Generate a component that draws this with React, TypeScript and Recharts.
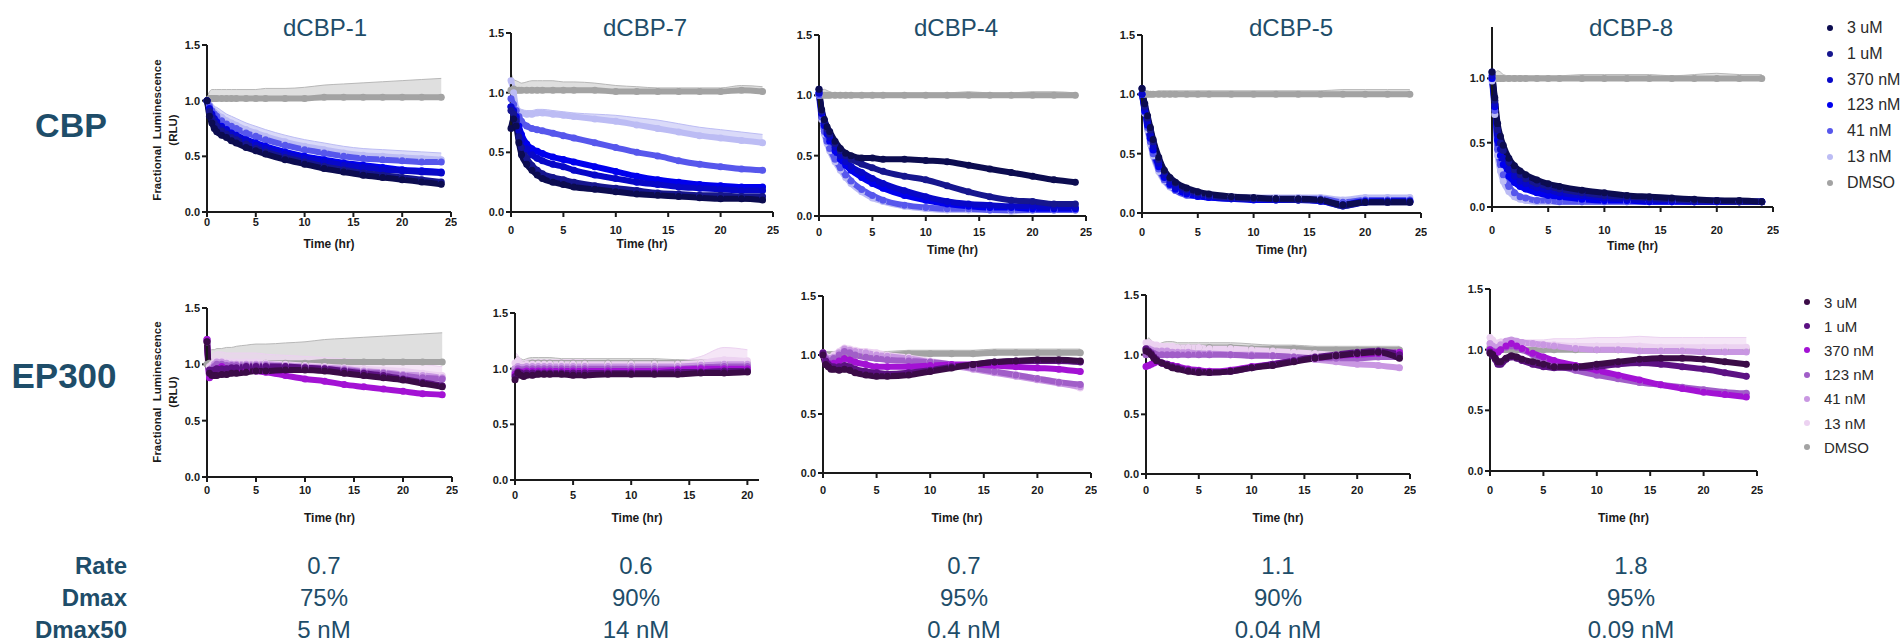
import { Area, ComposedChart, Line, XAxis, YAxis } from "recharts";

const TIME = [0, 0.25, 0.5, 0.75, 1, 1.5, 2, 2.5, 3, 4, 5, 6, 8, 10, 12, 14, 16, 18, 20, 22, 24];
const DOSES = ["3 uM", "1 uM", "370 nM", "123 nM", "41 nM", "13 nM", "DMSO"];
const COMPOUNDS = ["dCBP-1", "dCBP-7", "dCBP-4", "dCBP-5", "dCBP-8"];
const RATE = ["0.7", "0.6", "0.7", "1.1", "1.8"];
const DMAX = ["75%", "90%", "95%", "90%", "95%"];
const DMAX50 = ["5 nM", "14 nM", "0.4 nM", "0.04 nM", "0.09 nM"];

const CBP_COLORS = ["#0c0c50", "#16168e", "#0808c8", "#0000ee", "#5757ec", "#bcbcf4", "#a3a3a3"];
const EP300_COLORS = ["#3b0b47", "#5c1183", "#a312d4", "#a15ec8", "#c997e2", "#ecd2f1", "#a3a3a3"];

// rows follow DOSES order: 3 uM, 1 uM, 370 nM, 123 nM, 41 nM, 13 nM, DMSO
const CBP_DCBP1 = [
  [1.0, 0.86, 0.8, 0.75, 0.72, 0.69, 0.67, 0.64, 0.62, 0.58, 0.55, 0.52, 0.47, 0.43, 0.39, 0.36, 0.33, 0.31, 0.29, 0.27, 0.25],
  [1.0, 0.9, 0.84, 0.8, 0.77, 0.73, 0.7, 0.67, 0.65, 0.61, 0.57, 0.54, 0.49, 0.45, 0.41, 0.38, 0.35, 0.33, 0.31, 0.29, 0.27],
  [1.0, 0.92, 0.87, 0.83, 0.8, 0.76, 0.73, 0.7, 0.68, 0.64, 0.6, 0.57, 0.52, 0.48, 0.45, 0.42, 0.4, 0.38, 0.37, 0.36, 0.35],
  [1.0, 0.93, 0.88, 0.84, 0.81, 0.77, 0.74, 0.71, 0.69, 0.65, 0.62, 0.59, 0.54, 0.5, 0.47, 0.44, 0.42, 0.4, 0.38, 0.37, 0.36],
  [1.0, 0.95, 0.91, 0.88, 0.86, 0.82, 0.79, 0.77, 0.75, 0.71, 0.68, 0.65, 0.6, 0.56, 0.53, 0.5, 0.48, 0.47, 0.46, 0.45, 0.45],
  [1.0, 0.96, 0.93, 0.9, 0.88, 0.85, 0.82, 0.8, 0.78, 0.74, 0.71, 0.68, 0.63, 0.59, 0.56, 0.53, 0.51, 0.5, 0.49, 0.48, 0.47],
  [1.0, 1.02, 1.02, 1.02, 1.02, 1.02, 1.02, 1.02, 1.02, 1.02, 1.02, 1.02, 1.02, 1.02, 1.03, 1.03, 1.03, 1.03, 1.03, 1.03, 1.03]
];
const CBP_DCBP1_DMSO_ERR = [0.03, 0.06, 0.08, 0.08, 0.08, 0.08, 0.08, 0.08, 0.08, 0.08, 0.08, 0.09, 0.09, 0.1, 0.11, 0.12, 0.13, 0.14, 0.15, 0.16, 0.17];
const CBP_DCBP1_13NM_ERR = [0.03, 0.04, 0.05, 0.05, 0.06, 0.06, 0.06, 0.06, 0.06, 0.06, 0.06, 0.06, 0.06, 0.06, 0.06, 0.06, 0.06, 0.06, 0.06, 0.06, 0.06];

const CBP_DCBP7 = [
  [0.7, 0.78, 0.72, 0.58, 0.48, 0.4, 0.35, 0.31, 0.28, 0.25, 0.23, 0.21, 0.19, 0.17, 0.15, 0.14, 0.13, 0.12, 0.11, 0.11, 0.1],
  [0.85, 0.82, 0.76, 0.63, 0.54, 0.45, 0.39, 0.35, 0.32, 0.29, 0.27, 0.25, 0.22, 0.2, 0.18, 0.16, 0.15, 0.14, 0.14, 0.13, 0.13],
  [0.88, 0.84, 0.78, 0.68, 0.6, 0.53, 0.48, 0.45, 0.43, 0.4, 0.38, 0.35, 0.31, 0.28, 0.25, 0.23, 0.21, 0.2, 0.19, 0.18, 0.18],
  [0.88, 0.85, 0.8, 0.72, 0.65, 0.57, 0.53, 0.51, 0.49, 0.46, 0.44, 0.42, 0.38, 0.34, 0.3, 0.27, 0.25, 0.23, 0.22, 0.21, 0.21],
  [0.95, 0.9, 0.85, 0.8, 0.76, 0.72, 0.7, 0.69, 0.68, 0.66, 0.64, 0.62, 0.58, 0.54, 0.5, 0.47, 0.43, 0.4, 0.38, 0.36, 0.35],
  [1.1, 1.0, 0.87, 0.84, 0.83, 0.82, 0.82, 0.83, 0.83, 0.82, 0.81, 0.8, 0.78, 0.76, 0.73, 0.7, 0.67, 0.64, 0.62, 0.6, 0.58],
  [1.02, 1.03, 1.02, 1.02, 1.02, 1.02, 1.02, 1.02, 1.02, 1.02, 1.02, 1.02, 1.02, 1.01, 1.01, 1.01, 1.01, 1.01, 1.01, 1.02, 1.01]
];
const CBP_DCBP7_DMSO_ERR = [0.15, 0.08, 0.08, 0.07, 0.06, 0.07, 0.08, 0.08, 0.08, 0.08, 0.07, 0.07, 0.06, 0.05, 0.04, 0.03, 0.03, 0.03, 0.03, 0.04, 0.04];
const CBP_DCBP7_13NM_ERR = [0.05, 0.04, 0.03, 0.03, 0.03, 0.03, 0.03, 0.03, 0.03, 0.03, 0.03, 0.03, 0.04, 0.05, 0.06, 0.07, 0.07, 0.07, 0.07, 0.07, 0.07];

const CBP_DCBP4 = [
  [1.05, 0.88, 0.8, 0.74, 0.7, 0.62, 0.56, 0.52, 0.5, 0.48, 0.48, 0.47, 0.47, 0.46, 0.45, 0.42, 0.39, 0.36, 0.33, 0.3, 0.28],
  [1.05, 0.87, 0.79, 0.72, 0.68, 0.6, 0.54, 0.5, 0.47, 0.43, 0.4, 0.37, 0.33, 0.3, 0.25, 0.2, 0.16, 0.13, 0.12, 0.1, 0.1],
  [1.02, 0.86, 0.77, 0.7, 0.65, 0.57, 0.5, 0.45, 0.41, 0.36, 0.31, 0.27, 0.21, 0.16, 0.12, 0.1, 0.09, 0.08, 0.08, 0.07, 0.07],
  [1.02, 0.85, 0.75, 0.68, 0.62, 0.54, 0.47, 0.42, 0.38, 0.32, 0.27, 0.23, 0.17, 0.13, 0.1, 0.08, 0.07, 0.07, 0.06, 0.06, 0.06],
  [1.0, 0.82, 0.7, 0.62, 0.56, 0.47, 0.4, 0.34, 0.29, 0.22, 0.17, 0.13, 0.09, 0.07, 0.06, 0.06, 0.05, 0.05, 0.05, 0.05, 0.05],
  [1.0, 0.8, 0.68, 0.6, 0.54, 0.45, 0.38, 0.32, 0.27, 0.2, 0.15, 0.12, 0.08, 0.06, 0.05, 0.05, 0.05, 0.04, 0.05, 0.05, 0.05],
  [1.0, 1.0, 1.0, 1.0, 1.0, 1.0, 1.0, 1.0, 1.0, 1.0, 1.0, 1.0, 1.0, 1.0, 1.0, 1.0, 1.0, 1.0, 1.0, 1.0, 1.0]
];
const CBP_DCBP4_DMSO_ERR = [0.03, 0.04, 0.05, 0.04, 0.03, 0.02, 0.02, 0.02, 0.02, 0.02, 0.02, 0.02, 0.02, 0.02, 0.02, 0.03, 0.02, 0.02, 0.03, 0.03, 0.02];

const CBP_DCBP5 = [
  [1.05, 0.92, 0.82, 0.72, 0.62, 0.47, 0.36, 0.3, 0.26, 0.21, 0.18, 0.16, 0.14, 0.13, 0.12, 0.12, 0.11, 0.07, 0.09, 0.09, 0.09],
  [1.05, 0.9, 0.8, 0.7, 0.6, 0.45, 0.35, 0.29, 0.25, 0.2, 0.17, 0.15, 0.13, 0.12, 0.12, 0.11, 0.11, 0.06, 0.09, 0.09, 0.09],
  [1.0, 0.88, 0.77, 0.66, 0.56, 0.42, 0.32, 0.26, 0.22, 0.18, 0.15, 0.14, 0.12, 0.12, 0.11, 0.11, 0.1, 0.06, 0.09, 0.1, 0.1],
  [1.0, 0.86, 0.74, 0.63, 0.53, 0.39, 0.3, 0.24, 0.2, 0.16, 0.14, 0.13, 0.12, 0.11, 0.11, 0.11, 0.1, 0.07, 0.1, 0.1, 0.1],
  [1.0, 0.85, 0.72, 0.6, 0.5, 0.37, 0.28, 0.23, 0.19, 0.15, 0.14, 0.13, 0.12, 0.12, 0.12, 0.12, 0.12, 0.09, 0.11, 0.11, 0.11],
  [1.0, 0.84, 0.7, 0.58, 0.48, 0.35, 0.27, 0.22, 0.19, 0.16, 0.15, 0.14, 0.14, 0.13, 0.13, 0.13, 0.13, 0.11, 0.13, 0.13, 0.13],
  [1.0, 1.0, 1.0, 1.0, 1.0, 1.0, 1.0, 1.0, 1.0, 1.0, 1.0, 1.0, 1.0, 1.0, 1.0, 1.0, 1.0, 1.0, 1.0, 1.0, 1.0]
];
const CBP_DCBP5_DMSO_ERR = [0.03, 0.03, 0.03, 0.02, 0.02, 0.03, 0.03, 0.03, 0.03, 0.03, 0.03, 0.03, 0.03, 0.03, 0.03, 0.03, 0.03, 0.04, 0.04, 0.04, 0.04];

const CBP_DCBP8 = [
  [1.05, 0.85, 0.65, 0.55, 0.48, 0.38, 0.32, 0.28, 0.25, 0.21, 0.18, 0.16, 0.13, 0.11, 0.09, 0.08, 0.07, 0.06, 0.05, 0.05, 0.04],
  [1.05, 0.83, 0.6, 0.5, 0.44, 0.35, 0.29, 0.25, 0.22, 0.18, 0.16, 0.14, 0.11, 0.09, 0.08, 0.07, 0.06, 0.05, 0.05, 0.04, 0.04],
  [1.02, 0.8, 0.57, 0.45, 0.38, 0.29, 0.24, 0.2, 0.18, 0.15, 0.13, 0.11, 0.09, 0.07, 0.06, 0.05, 0.05, 0.04, 0.04, 0.04, 0.04],
  [1.0, 0.78, 0.52, 0.4, 0.33, 0.24, 0.19, 0.16, 0.14, 0.11, 0.09, 0.08, 0.06, 0.05, 0.05, 0.04, 0.04, 0.04, 0.04, 0.04, 0.04],
  [1.0, 0.75, 0.45, 0.33, 0.25, 0.16, 0.11, 0.08, 0.07, 0.05, 0.05, 0.04, 0.04, 0.04, 0.04, 0.04, 0.04, 0.04, 0.04, 0.04, 0.04],
  [0.98, 0.72, 0.4, 0.28, 0.2, 0.12, 0.08, 0.06, 0.05, 0.04, 0.04, 0.04, 0.04, 0.04, 0.04, 0.04, 0.04, 0.04, 0.04, 0.04, 0.04],
  [1.0, 1.0, 1.0, 1.0, 1.0, 1.0, 1.0, 1.0, 1.0, 1.0, 1.0, 1.0, 1.0, 1.0, 1.0, 1.0, 1.0, 1.0, 1.0, 1.0, 1.0]
];
const CBP_DCBP8_DMSO_ERR = [0.03, 0.04, 0.06, 0.05, 0.03, 0.02, 0.02, 0.02, 0.02, 0.02, 0.02, 0.02, 0.03, 0.03, 0.03, 0.03, 0.02, 0.03, 0.04, 0.03, 0.03];

const EP300_DCBP1 = [
  [1.2, 0.92, 0.9, 0.9, 0.9, 0.91, 0.91, 0.92, 0.92, 0.93, 0.94, 0.94, 0.95, 0.95, 0.94, 0.92, 0.9, 0.88, 0.86, 0.83, 0.8],
  [1.2, 0.95, 0.94, 0.95, 0.96, 0.96, 0.96, 0.97, 0.97, 0.98, 0.98, 0.98, 0.98, 0.97, 0.96, 0.94, 0.92, 0.9, 0.87, 0.84, 0.81],
  [1.22, 0.88, 0.9, 0.93, 0.96, 0.98, 0.96, 0.95, 0.95, 0.95, 0.94, 0.93, 0.9, 0.87, 0.85, 0.82, 0.8, 0.78, 0.76, 0.74, 0.73],
  [1.22, 0.9, 0.94, 0.98, 1.0, 1.0, 0.99, 0.99, 0.99, 0.99, 0.99, 0.99, 0.98, 0.97, 0.96, 0.95, 0.93, 0.92, 0.9, 0.88, 0.87],
  [1.22, 0.95, 0.97, 1.0, 1.02, 1.02, 1.01, 1.0, 1.0, 1.0, 1.0, 1.0, 0.99, 0.98, 0.97, 0.96, 0.94, 0.93, 0.91, 0.9, 0.88],
  [1.2, 0.98, 1.0, 1.02, 1.03, 1.03, 1.02, 1.02, 1.02, 1.02, 1.02, 1.01, 1.0, 0.99, 0.98, 0.97, 0.96, 0.95, 0.94, 0.92, 0.9],
  [1.0, 1.01, 1.01, 1.01, 1.01, 1.01, 1.01, 1.01, 1.01, 1.01, 1.01, 1.01, 1.01, 1.01, 1.02, 1.02, 1.02, 1.02, 1.02, 1.02, 1.02]
];
const EP300_DCBP1_DMSO_ERR = [0.05, 0.1, 0.12, 0.12, 0.13, 0.13, 0.14, 0.14, 0.15, 0.16, 0.17, 0.17, 0.18, 0.19, 0.2, 0.21, 0.22, 0.23, 0.24, 0.25, 0.26];
const EP300_DCBP1_13NM_ERR = [0.1, 0.05, 0.08, 0.08, 0.08, 0.08, 0.08, 0.08, 0.08, 0.08, 0.08, 0.08, 0.08, 0.08, 0.08, 0.08, 0.08, 0.08, 0.08, 0.08, 0.08];

// this run stops at ~21 hr
const EP300_DCBP7 = [
  [0.9, 0.96, 0.94, 0.93, 0.94, 0.94, 0.95, 0.95, 0.95, 0.95, 0.94, 0.94, 0.95, 0.95, 0.95, 0.95, 0.96, 0.96, 0.97, null, null],
  [0.93, 0.97, 0.96, 0.95, 0.96, 0.96, 0.96, 0.96, 0.96, 0.96, 0.96, 0.96, 0.96, 0.96, 0.96, 0.97, 0.97, 0.98, 0.98, null, null],
  [0.95, 0.98, 0.97, 0.97, 0.98, 0.98, 0.98, 0.98, 0.98, 0.98, 0.98, 0.98, 0.98, 0.98, 0.98, 0.99, 1.0, 1.0, 1.0, null, null],
  [0.97, 1.0, 0.99, 0.99, 1.0, 1.0, 1.0, 1.0, 1.0, 1.0, 1.0, 1.0, 1.0, 1.0, 1.0, 1.0, 1.01, 1.02, 1.02, null, null],
  [1.0, 1.02, 1.01, 1.01, 1.02, 1.02, 1.02, 1.02, 1.02, 1.02, 1.02, 1.02, 1.02, 1.02, 1.02, 1.02, 1.03, 1.04, 1.04, null, null],
  [1.05, 1.07, 1.04, 1.03, 1.04, 1.04, 1.04, 1.04, 1.04, 1.04, 1.04, 1.04, 1.04, 1.04, 1.04, 1.04, 1.05, 1.08, 1.07, null, null],
  [1.0, 1.05, 1.04, 1.03, 1.04, 1.05, 1.05, 1.05, 1.05, 1.05, 1.05, 1.05, 1.05, 1.05, 1.05, 1.05, 1.05, 1.05, 1.05, null, null]
];
const EP300_DCBP7_DMSO_ERR = [0.1, 0.06, 0.05, 0.05, 0.05, 0.05, 0.05, 0.05, 0.05, 0.04, 0.04, 0.04, 0.04, 0.04, 0.04, 0.03, 0.03, 0.03, 0.03, null, null];
const EP300_DCBP7_13NM_ERR = [0.1, 0.05, 0.04, 0.04, 0.04, 0.04, 0.04, 0.04, 0.04, 0.04, 0.04, 0.04, 0.03, 0.03, 0.03, 0.03, 0.06, 0.11, 0.1, null, null];

const EP300_DCBP4 = [
  [1.0, 0.92, 0.9, 0.88, 0.88, 0.87, 0.88, 0.87, 0.85, 0.83, 0.82, 0.82, 0.83, 0.86, 0.89, 0.92, 0.94, 0.95, 0.96, 0.96, 0.95],
  [1.02, 0.95, 0.92, 0.9, 0.9, 0.9, 0.91, 0.9, 0.88, 0.86, 0.85, 0.84, 0.85, 0.87, 0.9, 0.92, 0.94, 0.95, 0.95, 0.95, 0.94],
  [1.0, 0.95, 0.93, 0.92, 0.93, 0.95, 0.97, 0.96, 0.94, 0.92, 0.9, 0.9, 0.9, 0.91, 0.92, 0.92, 0.91, 0.9, 0.89, 0.88, 0.86],
  [1.0, 0.97, 0.95, 0.95, 0.97, 1.0, 1.03, 1.02, 1.0, 0.98, 0.97, 0.96, 0.95, 0.94, 0.92, 0.89, 0.86, 0.83, 0.8, 0.77, 0.75],
  [1.02, 0.98, 0.97, 0.97, 0.98, 1.02, 1.05, 1.04, 1.03, 1.02, 1.0, 0.99, 0.97, 0.94, 0.91, 0.88, 0.85, 0.82, 0.79, 0.76, 0.73],
  [1.02, 0.99, 0.98, 0.98, 1.0, 1.03, 1.06, 1.05, 1.04, 1.03, 1.02, 1.0, 0.98, 0.95, 0.92, 0.89, 0.86, 0.83, 0.8, 0.77, 0.72],
  [1.0, 1.0, 1.0, 1.0, 1.0, 1.0, 1.0, 1.0, 1.0, 1.0, 1.0, 1.0, 1.01, 1.01, 1.01, 1.01, 1.02, 1.02, 1.02, 1.02, 1.02]
];
const EP300_DCBP4_DMSO_ERR = [0.02, 0.03, 0.03, 0.03, 0.03, 0.03, 0.03, 0.03, 0.03, 0.03, 0.03, 0.03, 0.03, 0.03, 0.03, 0.03, 0.03, 0.03, 0.03, 0.03, 0.03];

const EP300_DCBP5 = [
  [1.03, 1.02, 1.0, 0.97, 0.95, 0.93, 0.91, 0.89, 0.88, 0.86, 0.85, 0.85, 0.86, 0.89, 0.91, 0.94, 0.97, 0.99, 1.01, 1.02, 0.97],
  [1.05, 1.03, 1.01, 0.98, 0.96, 0.93, 0.92, 0.9, 0.89, 0.87, 0.86, 0.85, 0.86, 0.89, 0.92, 0.95, 0.98, 1.0, 1.02, 1.03, 1.0],
  [0.9, 0.91, 0.92, 0.93, 0.94, 0.93, 0.92, 0.91, 0.9, 0.88, 0.87, 0.86, 0.87, 0.9, 0.92, 0.95, 0.97, 0.99, 1.0, 1.01, 1.02],
  [1.0, 1.02, 1.02, 1.01, 1.0, 1.0, 1.0, 1.0, 1.0, 1.0, 1.0, 1.0, 1.0, 0.99, 0.99, 0.98, 0.97, 0.97, 0.97, 0.98, 0.98],
  [1.05, 1.05, 1.04, 1.03, 1.03, 1.03, 1.03, 1.02, 1.02, 1.02, 1.01, 1.01, 1.0, 1.0, 0.99, 0.98, 0.96, 0.94, 0.92, 0.91, 0.89],
  [1.1, 1.1, 1.09, 1.08, 1.08, 1.07, 1.07, 1.07, 1.06, 1.06, 1.06, 1.05, 1.05, 1.04, 1.03, 1.02, 1.01, 1.0, 1.0, 1.0, 1.0],
  [1.05, 1.08, 1.06, 1.04, 1.03, 1.05, 1.06, 1.06, 1.06, 1.06, 1.06, 1.06, 1.06, 1.05, 1.05, 1.05, 1.04, 1.04, 1.04, 1.04, 1.04]
];
const EP300_DCBP5_DMSO_ERR = [0.05, 0.06, 0.06, 0.05, 0.05, 0.05, 0.05, 0.05, 0.04, 0.04, 0.04, 0.04, 0.04, 0.04, 0.03, 0.03, 0.03, 0.03, 0.03, 0.03, 0.03];

const EP300_DCBP8 = [
  [0.97, 0.96, 0.93, 0.9, 0.9, 0.93, 0.95, 0.94, 0.92, 0.9, 0.88, 0.86, 0.86, 0.88, 0.9, 0.92, 0.93, 0.93, 0.92, 0.9, 0.88],
  [0.98, 0.95, 0.92, 0.88, 0.88, 0.92, 0.94, 0.93, 0.91, 0.88, 0.86, 0.85, 0.85, 0.86, 0.88, 0.89, 0.88, 0.86, 0.84, 0.81, 0.78],
  [1.0, 0.98, 0.97, 0.98, 1.0, 1.03, 1.05, 1.03, 1.01, 0.97, 0.94, 0.91, 0.87, 0.83, 0.79, 0.75, 0.71, 0.68, 0.65, 0.63, 0.61],
  [1.0, 0.99, 0.98, 0.98, 1.0, 1.02, 1.03, 1.02, 1.0, 0.96, 0.92, 0.88, 0.83, 0.79, 0.76, 0.73, 0.71, 0.69, 0.67, 0.65, 0.64],
  [1.05, 1.03, 1.01, 1.02, 1.04, 1.07, 1.08, 1.07, 1.06, 1.05, 1.04, 1.03, 1.01, 1.0, 1.0, 0.99, 0.99, 0.99, 0.98, 0.98, 0.98],
  [1.1, 1.08, 1.05, 1.05, 1.06, 1.05, 1.05, 1.05, 1.05, 1.05, 1.04, 1.04, 1.03, 1.03, 1.03, 1.03, 1.02, 1.02, 1.02, 1.02, 1.02],
  [1.02, 1.01, 1.01, 1.0, 1.0, 1.0, 1.0, 1.0, 1.0, 1.0, 1.0, 1.0, 1.0, 1.0, 1.0, 1.0, 1.0, 1.0, 1.0, 1.0, 1.0]
];
const EP300_DCBP8_DMSO_ERR = [0.02, 0.02, 0.02, 0.02, 0.02, 0.02, 0.02, 0.02, 0.02, 0.02, 0.02, 0.02, 0.02, 0.02, 0.02, 0.02, 0.02, 0.02, 0.02, 0.02, 0.02];
const EP300_DCBP8_13NM_ERR = [0.02, 0.02, 0.03, 0.03, 0.03, 0.03, 0.03, 0.03, 0.03, 0.03, 0.04, 0.05, 0.06, 0.07, 0.07, 0.08, 0.08, 0.08, 0.08, 0.08, 0.08];

const FONT = "'Liberation Sans', Arial, Helvetica, sans-serif";
const INK = "#1a1a1a";
const TEAL = "#1e4d69";

type PanelSpec = {
  data: (number | null)[][];
  dmsoErr: (number | null)[];
  lowErr?: (number | null)[];
  colors: string[];
  x0: number;
  x1: number;
  yTop: number;
  yBot: number;
  xMax: number;
  yMax: number;
  tickGap: number;
  timeY: number;
};

const PANELS: PanelSpec[] = [
  { data: CBP_DCBP1, dmsoErr: CBP_DCBP1_DMSO_ERR, lowErr: CBP_DCBP1_13NM_ERR, colors: CBP_COLORS, x0: 207, x1: 451, yTop: 45, yBot: 212, xMax: 25, yMax: 1.5, tickGap: 1, timeY: 244 },
  { data: CBP_DCBP7, dmsoErr: CBP_DCBP7_DMSO_ERR, lowErr: CBP_DCBP7_13NM_ERR, colors: CBP_COLORS, x0: 511, x1: 773, yTop: 33, yBot: 212, xMax: 25, yMax: 1.5, tickGap: 9, timeY: 244 },
  { data: CBP_DCBP4, dmsoErr: CBP_DCBP4_DMSO_ERR, colors: CBP_COLORS, x0: 819, x1: 1086, yTop: 35, yBot: 216, xMax: 25, yMax: 1.5, tickGap: 7, timeY: 250 },
  { data: CBP_DCBP5, dmsoErr: CBP_DCBP5_DMSO_ERR, colors: CBP_COLORS, x0: 1142, x1: 1421, yTop: 35, yBot: 213, xMax: 25, yMax: 1.5, tickGap: 10, timeY: 250 },
  { data: CBP_DCBP8, dmsoErr: CBP_DCBP8_DMSO_ERR, colors: CBP_COLORS, x0: 1492, x1: 1773, yTop: 27, yBot: 207, xMax: 25, yMax: 1.4, tickGap: 14, timeY: 246 },
  { data: EP300_DCBP1, dmsoErr: EP300_DCBP1_DMSO_ERR, lowErr: EP300_DCBP1_13NM_ERR, colors: EP300_COLORS, x0: 207, x1: 452, yTop: 308, yBot: 477, xMax: 25, yMax: 1.5, tickGap: 4, timeY: 518 },
  { data: EP300_DCBP7, dmsoErr: EP300_DCBP7_DMSO_ERR, lowErr: EP300_DCBP7_13NM_ERR, colors: EP300_COLORS, x0: 515, x1: 759, yTop: 313, yBot: 480, xMax: 21, yMax: 1.5, tickGap: 6, timeY: 518 },
  { data: EP300_DCBP4, dmsoErr: EP300_DCBP4_DMSO_ERR, colors: EP300_COLORS, x0: 823, x1: 1091, yTop: 296, yBot: 473, xMax: 25, yMax: 1.5, tickGap: 8, timeY: 518 },
  { data: EP300_DCBP5, dmsoErr: EP300_DCBP5_DMSO_ERR, colors: EP300_COLORS, x0: 1146, x1: 1410, yTop: 295, yBot: 474, xMax: 25, yMax: 1.5, tickGap: 7, timeY: 518 },
  { data: EP300_DCBP8, dmsoErr: EP300_DCBP8_DMSO_ERR, lowErr: EP300_DCBP8_13NM_ERR, colors: EP300_COLORS, x0: 1490, x1: 1757, yTop: 289, yBot: 471, xMax: 25, yMax: 1.5, tickGap: 10, timeY: 518 }
];

const TITLE_X = [325, 645, 956, 1291, 1631];
const TABLE_X = [324, 636, 964, 1278, 1631];

function Panel({ p }: { p: PanelSpec }) {
  const yw = 40;
  const mt = 6;
  const mr = 6;
  const xh = p.timeY + 10 - p.yBot;
  const width = p.x1 - p.x0 + yw + mr;
  const height = p.yBot - p.yTop + mt + xh;

  const rows = TIME.map((t, i) => {
    const row: Record<string, unknown> = { t };
    p.data.forEach((s, k) => {
      row["s" + k] = s[i];
    });
    const dm = p.data[6][i];
    const de = p.dmsoErr[i];
    row.dmsoBand = dm == null || de == null ? null : [dm, dm + de];
    if (p.lowErr) {
      const lv = p.data[5][i];
      const le = p.lowErr[i];
      row.lowBand = lv == null || le == null ? null : [lv, lv + le];
    }
    return row;
  }).filter((r) => (r.t as number) <= p.xMax);

  const xTicks = p.xMax === 25 ? [0, 5, 10, 15, 20, 25] : [0, 5, 10, 15, 20];
  const yTicks = p.yMax === 1.5 ? [0, 0.5, 1, 1.5] : [0, 0.5, 1];
  const tickStyle = { fill: INK, fontSize: 11, fontWeight: 700, fontFamily: FONT };
  const order = [6, 5, 4, 3, 2, 1, 0];

  return (
    <div style={{ position: "absolute", left: p.x0 - yw, top: p.yTop - mt }}>
      <ComposedChart width={width} height={height} data={rows} margin={{ top: mt, right: mr, left: 0, bottom: 0 }}>
        <XAxis
          type="number"
          dataKey="t"
          domain={[0, p.xMax]}
          ticks={xTicks}
          height={xh}
          tickSize={5}
          tickMargin={p.tickGap}
          tick={tickStyle}
          axisLine={{ stroke: INK, strokeWidth: 2 }}
          tickLine={{ stroke: INK, strokeWidth: 2 }}
          label={{ value: "Time (hr)", position: "insideBottom", offset: 6, fill: INK, fontSize: 12, fontWeight: 700, fontFamily: FONT }}
        />
        <YAxis
          type="number"
          domain={[0, p.yMax]}
          ticks={yTicks}
          width={yw}
          tickSize={5}
          tickMargin={2}
          tick={tickStyle}
          tickFormatter={(v: number) => v.toFixed(1)}
          axisLine={{ stroke: INK, strokeWidth: 2 }}
          tickLine={{ stroke: INK, strokeWidth: 2 }}
        />
        <Area dataKey="dmsoBand" type="monotone" fill="#a3a3a3" fillOpacity={0.35} stroke="#b8b8b8" strokeWidth={1} isAnimationActive={false} />
        {p.lowErr && (
          <Area dataKey="lowBand" type="monotone" fill={p.colors[5]} fillOpacity={0.55} stroke={p.colors[5]} strokeWidth={1} isAnimationActive={false} />
        )}
        {order.map((k) => (
          <Line
            key={k}
            dataKey={"s" + k}
            name={DOSES[k]}
            type="monotone"
            stroke={p.colors[k]}
            strokeWidth={6}
            strokeLinecap="round"
            dot={{ r: 3.5, fill: p.colors[k], stroke: "none" }}
            isAnimationActive={false}
          />
        ))}
      </ComposedChart>
    </div>
  );
}

function DoseLegend({ colors, dotX, top, step, fontSize }: { colors: string[]; dotX: number; top: number; step: number; fontSize: number }) {
  return (
    <>
      {DOSES.map((d, i) => (
        <div key={d} style={{ position: "absolute", left: dotX - 3, top: top + i * step - fontSize / 2, height: fontSize, display: "flex", alignItems: "center", fontSize, fontFamily: FONT, color: "#2a2a2a", lineHeight: 1 }}>
          <span style={{ width: 6, height: 6, borderRadius: 3, background: colors[i], marginRight: 14 }} />
          {d}
        </div>
      ))}
    </>
  );
}

function YLabel({ cx, cy }: { cx: number; cy: number }) {
  return (
    <div style={{ position: "absolute", left: cx - 90, top: cy - 16, width: 180, height: 32, transform: "rotate(-90deg)", textAlign: "center", fontFamily: FONT, fontWeight: 700, fontSize: 11.5, lineHeight: "16px", color: INK }}>
      Fractional&nbsp; Luminescence
      <br />
      (RLU)
    </div>
  );
}

export default function App() {
  const center = (x: number, y: number, size: number, bold = false) => ({
    position: "absolute" as const,
    left: x - 150,
    top: y - size / 2,
    width: 300,
    textAlign: "center" as const,
    fontSize: size,
    lineHeight: `${size}px`,
    fontWeight: bold ? 700 : 400,
    fontFamily: FONT,
    color: TEAL
  });
  const rightLabel = (y: number) => ({
    position: "absolute" as const,
    left: 0,
    top: y - 12,
    width: 127,
    textAlign: "right" as const,
    fontSize: 24,
    lineHeight: "24px",
    fontWeight: 700,
    fontFamily: FONT,
    color: TEAL
  });

  return (
    <div style={{ position: "absolute", left: 0, top: 0, width: 1902, height: 643, background: "#fff", overflow: "hidden" }}>
      {COMPOUNDS.map((c, i) => (
        <div key={c} style={center(TITLE_X[i], 28, 24)}>{c}</div>
      ))}
      <div style={center(71, 125, 34, true)}>CBP</div>
      <div style={center(64, 375, 35, true)}>EP300</div>
      <YLabel cx={165} cy={130} />
      <YLabel cx={165} cy={392} />
      {PANELS.map((p, i) => (
        <Panel key={i} p={p} />
      ))}
      <DoseLegend colors={CBP_COLORS} dotX={1830} top={28} step={25.8} fontSize={16} />
      <DoseLegend colors={EP300_COLORS} dotX={1807} top={302} step={24.2} fontSize={15} />
      <div style={rightLabel(566)}>Rate</div>
      <div style={rightLabel(598)}>Dmax</div>
      <div style={rightLabel(630)}>Dmax50</div>
      {TABLE_X.map((x, i) => (
        <div key={i}>
          <div style={center(x, 566, 24)}>{RATE[i]}</div>
          <div style={center(x, 598, 24)}>{DMAX[i]}</div>
          <div style={center(x, 630, 24)}>{DMAX50[i]}</div>
        </div>
      ))}
    </div>
  );
}
